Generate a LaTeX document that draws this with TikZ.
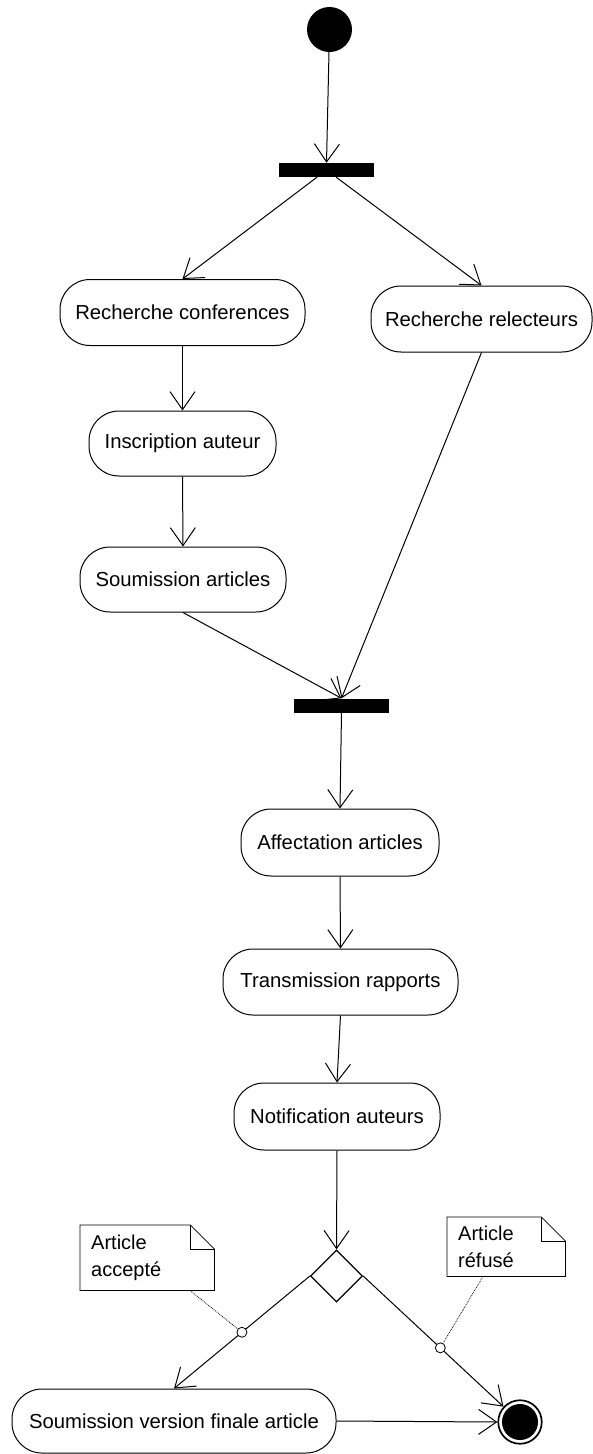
\documentclass[tikz,border=0pt]{standalone}
\usepackage{fontspec}
\setmainfont{Liberation Sans}
\usetikzlibrary{arrows.meta,shapes.geometric,calc}
\begin{document}
\begin{tikzpicture}[x=1pt,y=-1pt,
  act/.style={draw,line width=1pt,rounded corners=30pt,minimum height=66pt,inner sep=0pt,font=\fontsize{20.3}{23}\selectfont},
  flow/.style={line width=1pt,-{Straight Barb[length=18pt,width=25pt,line width=1pt]}},
  barnode/.style={fill=black,draw=none,inner sep=0pt,minimum width=95pt,minimum height=14pt},
  notebox/.style={inner xsep=11pt,inner ysep=0pt,align=left,font=\fontsize{20}{27}\selectfont},
  notedraw/.style={line width=0.8pt},
  guard/.style={draw,circle,line width=0.8pt,inner sep=0pt,minimum size=10pt,fill=white},
  link/.style={densely dotted,line width=0.8pt}]
\useasboundingbox (0,0) rectangle (592,1454);

% initial and bars
\node[circle,fill=black,inner sep=0pt,minimum size=45pt] (start) at (329.5,29.5) {};
\node[barnode] (bar1) at (326.5,170) {};
\node[barnode] (bar2) at (341.5,705.5) {};

% activities
\node[act,minimum width=245pt] (rc) at (182.5,312.5) {Recherche conferences};
\node[act,minimum width=221pt] (rr) at (481.5,319) {Recherche relecteurs};
\node[act,minimum width=187pt,minimum height=65pt] (ia) at (182.5,443.5) {Inscription auteur};
\node[act,minimum width=206pt,minimum height=65pt] (sa) at (183,579.5) {Soumission articles};
\node[act,minimum width=198pt,minimum height=67pt] (aa) at (340,842.5) {Affectation articles};
\node[act,minimum width=235pt] (tr) at (340.5,982) {Transmission rapports};
\node[act,minimum width=206pt,minimum height=67pt] (na) at (337,1116.5) {Notification auteurs};
\node[act,minimum width=324pt,minimum height=64pt] (sv) at (174,1421) {Soumission version finale article};

% decision and final
\node[diamond,draw,line width=1.3pt,minimum size=52pt,inner sep=0pt] (dec) at (336.5,1276) {};
\node[circle,draw,line width=1.7pt,inner sep=0pt,minimum size=43.5pt] (fin) at (520,1422) {};
\node[circle,fill=black,inner sep=0pt,minimum size=36pt] (fininner) at (fin.center) {};

% flows
\draw[flow] (start) -- (bar1.north);
\draw[flow] (bar1) -- (rc.north);
\draw[flow] (bar1) -- (rr.north);
\draw[flow] (rc.south) -- (ia.north);
\draw[flow] (ia.south) -- (sa.north);
\draw[flow] (sa.south) -- (bar2.north);
\draw[flow] (rr.south) -- (bar2.north);
\draw[flow] (bar2.south) -- (aa.north);
\draw[flow] (aa.south) -- (tr.north);
\draw[flow] (tr.south) -- (na.north);
\draw[flow] (na.south) -- (dec.north);
\draw[flow] (dec.west) -- (sv.north) coordinate[pos=0.5] (g1);
\draw[flow] (dec.east) -- (fin) coordinate[pos=0.55] (g2);
\draw[flow] (sv.east) -- (fin.west);

% notes
\node[notebox,text width=112pt,minimum height=65pt,anchor=north west] (n1) at (80,1225) {Article\\accepté};
\node[notebox,text width=96pt,minimum height=59pt,anchor=north west] (n2) at (447,1217) {Article\\réfusé};
\foreach \n in {n1,n2}{
  \draw[notedraw] (\n.north west) -- ($(\n.north east)+(-24,0)$) -- ($(\n.north east)+(0,24)$) -- (\n.south east) -- (\n.south west) -- cycle;
  \draw[notedraw] ($(\n.north east)+(-24,0)$) -- ($(\n.north east)+(-24,24)$) -- ($(\n.north east)+(0,24)$);
}
\node[guard] (c1) at (g1) {};
\node[guard] (c2) at (g2) {};
\draw[link] ($(n1.south west)+(110,0)$) -- (c1);
\draw[link] ($(n2.south west)+(36,0)$) -- (c2);
\end{tikzpicture}
\end{document}
